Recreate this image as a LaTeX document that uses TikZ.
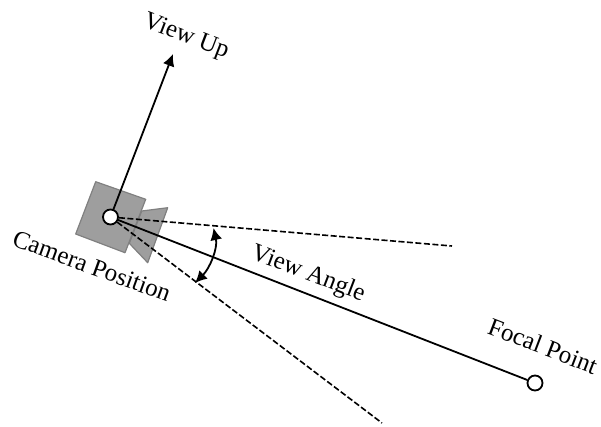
\documentclass[tikz,border=0pt]{standalone}
\usepackage{fontspec}
\setmainfont{Liberation Serif}
\usetikzlibrary{arrows.meta}
\tikzset{
  px/.style={x=1pt,y=-1pt},
  hole/.style={circle,draw=black,fill=white,line width=1.8pt,inner sep=0pt,minimum size=15pt},
  lbl/.style={inner sep=0pt,font=\fontsize{25}{27}\selectfont},
  camshape/.style={draw=black!50,fill=black!38,line width=1.2pt,line join=round},
  ray/.style={line width=1.8pt,black},
  dashray/.style={line width=1.6pt,black,dash pattern=on 6pt off 2.5pt},
  tip/.style={-{Latex[length=12pt,width=12pt]}},
}
\begin{document}
\begin{tikzpicture}[px]
\useasboundingbox (0,0) rectangle (601,426);
\draw[camshape] (141.7,211) -- (167.7,207.7) -- (147.7,262.7) -- (129.3,243.3) -- cycle;
\draw[camshape] (95.7,181.7) -- (145.7,199.3) -- (125,252.7) -- (75.7,234) -- cycle;
\coordinate (c) at (110.5,217);
\coordinate (up) at (173,54);
\coordinate (d1) at (452,246);
\coordinate (d2) at (382,423);
\coordinate (a1) at (213.5,228);
\coordinate (a2) at (195,283);
\draw[dashray] (c) -- (d1);
\draw[dashray] (c) -- (d2);
\node[hole] (fp) at (535,383) {};
\draw[ray] (c) -- (fp);
\draw[ray,tip] (c) -- (up);
\draw[line width=1.8pt,{Latex[length=12pt,width=12pt]}-{Latex[length=12pt,width=12pt]}] (a1) .. controls (218,248) and (210,268) .. (a2);
\node[hole] (cam) at (c) {};
\node[lbl,rotate=-21] (t1) at (186,37) {View Up};
\node[lbl,rotate=-20] (t2) at (92,266) {Camera Position};
\node[lbl,rotate=-21] (t3) at (308,274) {View Angle};
\node[lbl,rotate=-21] (t4) at (543,346) {Focal Point};
\end{tikzpicture}
\end{document}
